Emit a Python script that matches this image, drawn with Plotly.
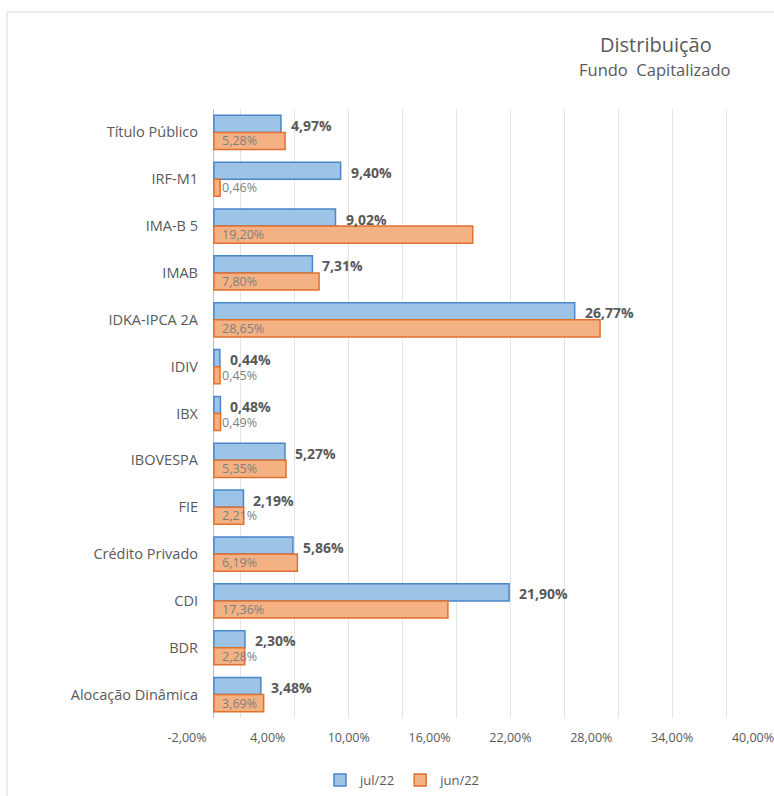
import plotly.graph_objects as go

# Asset classes, top to bottom
categories = [
    "Título Público", "IRF-M1", "IMA-B 5", "IMAB", "IDKA-IPCA 2A", "IDIV", "IBX",
    "IBOVESPA", "FIE", "Crédito Privado", "CDI", "BDR", "Alocação Dinâmica",
]
jul22 = [4.97, 9.40, 9.02, 7.31, 26.77, 0.44, 0.48, 5.27, 2.19, 5.86, 21.90, 2.30, 3.48]
jun22 = [5.28, 0.46, 19.20, 7.80, 28.65, 0.45, 0.49, 5.35, 2.21, 6.19, 17.36, 2.28, 3.69]

x_ticks = [-2, 4, 10, 16, 22, 28, 34, 40]
grid_lines = [-2, 2, 6, 10, 14, 18, 22, 26, 30, 34, 38]


def pct(v):
    return f"{v:.2f}".replace(".", ",") + "%"


FONT = "Open Sans"
GRAY = "#595959"

W, H = 774, 796
ML, MR, MT, MB = 187, 21, 109, 78
PW, PH = W - ML - MR, H - MT - MB


def px_x(px):
    return (px - ML) / PW


def px_y(py):
    return (H - MB - py) / PH


fig = go.Figure()
fig.add_trace(go.Bar(
    name="jul/22", y=categories, x=jul22, orientation="h",
    marker=dict(color="#9DC3E6", line=dict(color="#4A86C8", width=1.5)),
))
fig.add_trace(go.Bar(
    name="jun/22", y=categories, x=jun22, orientation="h",
    marker=dict(color="#F4B183", line=dict(color="#E0702E", width=1.5)),
))

annotations = []
half = 8.5  # half of one bar's thickness in px
for cat, a, b in zip(categories, jul22, jun22):
    annotations.append(dict(
        x=a, y=cat, xref="x", yref="y", text=f"<b>{pct(a)}</b>", showarrow=False,
        xanchor="left", yanchor="middle", xshift=8, yshift=half - 1.5,
        font=dict(family=FONT, size=14, color=GRAY),
    ))
    annotations.append(dict(
        x=0, y=cat, xref="x", yref="y", text=pct(b), showarrow=False,
        xanchor="left", yanchor="middle", xshift=6, yshift=-half,
        font=dict(family=FONT, size=12.5, color="#7f7f7f"),
    ))

annotations.append(dict(
    x=px_x(656), y=px_y(44), xref="paper", yref="paper", text="Distribuição",
    showarrow=False, xanchor="center", yanchor="middle",
    font=dict(family=FONT, size=20, color=GRAY),
))
annotations.append(dict(
    x=px_x(655), y=px_y(70), xref="paper", yref="paper", text="Fundo\u00a0 Capitalizado",
    showarrow=False, xanchor="center", yanchor="middle",
    font=dict(family=FONT, size=16.5, color=GRAY),
))

fig.update_layout(
    width=W, height=H,
    margin=dict(l=ML, r=MR, t=MT, b=MB, autoexpand=False),
    paper_bgcolor="white", plot_bgcolor="white",
    barmode="group", bargap=0.27, bargroupgap=0,
    font=dict(family=FONT, size=12, color=GRAY),
    annotations=annotations,
    showlegend=True,
    legend=dict(
        orientation="h", xref="container", yref="container",
        x=403 / W, y=1 - 780 / H, xanchor="center", yanchor="middle",
        font=dict(family=FONT, size=13, color=GRAY), traceorder="normal",
        itemwidth=30,
    ),
    shapes=[dict(
        type="rect", xref="paper", yref="paper",
        x0=px_x(7), x1=px_x(790), y0=px_y(810), y1=px_y(12),
        line=dict(color="#d9d9d9", width=1), fillcolor="rgba(0,0,0,0)", layer="below",
    )],
)

fig.update_xaxes(
    range=[-2, 40], tickvals=x_ticks, ticktext=[pct(v) for v in x_ticks],
    showgrid=False, zeroline=True, zerolinecolor="#bfbfbf", zerolinewidth=1,
    showline=False, ticks="", ticklabeloverflow="allow", ticklabelstandoff=10,
    tickfont=dict(family=FONT, size=12.5, color=GRAY),
    minor=dict(tickvals=grid_lines, showgrid=True, gridcolor="#e4e4e4", gridwidth=1, ticks=""),
)
fig.update_yaxes(
    type="category", categoryorder="array", categoryarray=categories,
    autorange="reversed", showgrid=False, zeroline=False, showline=False, ticks="",
    anchor="free", position=px_x(198),
    tickfont=dict(family=FONT, size=14.5, color=GRAY),
)

fig.write_html("out.html")
